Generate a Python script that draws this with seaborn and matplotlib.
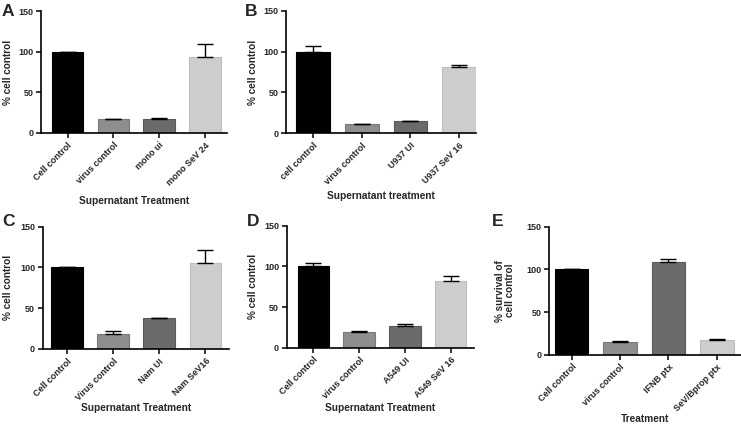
import numpy as np
import pandas as pd
import matplotlib
matplotlib.use('Agg')
import matplotlib.pyplot as plt
import seaborn as sns

# panel A
a_labels = ["Cell control", "virus control", "mono ui", "mono SeV 24"]
a_values = [100, 17, 17.5, 93]
a_err = [0, 0.8, 0.8, 17]

# panel B
b_labels = ["cell control", "virus control", "U937 UI", "U937 SeV 16"]
b_values = [100, 11.3, 14.8, 81]
b_err = [6.5, 0.5, 0.6, 3]

# panel C
c_labels = ["Cell control", "Virus control", "Nam UI", "Nam SeV16"]
c_values = [100, 18, 37.5, 106]
c_err = [0, 4.6, 0.5, 16]

# panel D
d_labels = ["Cell control", "virus control", "A549 UI", "A549 SeV 16"]
d_values = [100, 19.5, 26.5, 81.5]
d_err = [4, 1.5, 3, 7]

# panel E
e_labels = ["Cell control", "virus control", "IFNB ptx", "SeV/Bprop ptx"]
e_values = [100, 14.8, 108.6, 17.6]
e_err = [0, 0.8, 4, 0.8]

bar_colors = ["#000000", "#8e8e8e", "#6b6b6b", "#cdcdcd"]
edge_colors = ["#000000", "#7a7a7a", "#5a5a5a", "#bdbdbd"]

sns.set_style("ticks")
plt.rcParams['font.family'] = ['Liberation Sans', 'DejaVu Sans']
plt.rcParams['font.weight'] = 'bold'

W, H = 741, 428
fig = plt.figure(figsize=(W / 100, H / 100), dpi=100)


def px_axes(left, right, top, bottom):
    return fig.add_axes([left / W, 1 - bottom / H, (right - left) / W, (bottom - top) / H])


def panel(ax, labels, values, err, ylabel, xlabel, xlim, ylab_x, xlab_y):
    df = pd.DataFrame({"group": labels, "value": values})
    sns.barplot(data=df, x="group", y="value", hue="group", palette=bar_colors,
                width=0.69, legend=False, ax=ax, errorbar=None, linewidth=0.8)
    for patch, ec in zip(ax.patches, edge_colors):
        patch.set_edgecolor(ec)
    x = np.arange(len(values))
    ax.errorbar(x, values, yerr=[np.zeros(len(err)), err], fmt='none',
                ecolor='black', elinewidth=1.0, capsize=5.5, capthick=1.0, zorder=3)
    ax.set_ylim(0, 150)
    ax.set_yticks([0, 50, 100, 150])
    ax.set_xlim(*xlim)
    ax.spines['top'].set_visible(False)
    ax.spines['right'].set_visible(False)
    for s in ['left', 'bottom']:
        ax.spines[s].set_linewidth(1.2)
        ax.spines[s].set_color('black')
    ax.tick_params(axis='both', length=3.5, width=1.1, color='black',
                   labelsize=6.5, pad=2)
    ax.set_xticks(x)
    ax.set_xticklabels(labels, rotation=45, ha='right', rotation_mode='anchor',
                       fontweight='bold')
    for t in ax.get_yticklabels():
        t.set_fontweight('bold')
    ax.set_ylabel(ylabel, fontsize=7.2, fontweight='bold', linespacing=1.0)
    ax.set_xlabel(xlabel, fontsize=7.3, fontweight='bold')
    ax.yaxis.set_label_coords(ylab_x, 0.5)
    ax.xaxis.set_label_coords(0.5, xlab_y)


ax_a = px_axes(41, 227, 11, 133)
panel(ax_a, a_labels, a_values, a_err, "% cell control", "Supernatant Treatment",
      (-0.58, 3.48), -0.15, -0.515)

ax_b = px_axes(286, 476, 10.7, 133.3)
panel(ax_b, b_labels, b_values, b_err, "% cell control", "Supernatant treatment",
      (-0.56, 3.35), -0.147, -0.47)

ax_c = px_axes(42.7, 229, 226.7, 349)
panel(ax_c, c_labels, c_values, c_err, "% cell control", "Supernatant Treatment",
      (-0.53, 3.51), -0.16, -0.44)

ax_d = px_axes(286.7, 474, 225.7, 347.7)
panel(ax_d, d_labels, d_values, d_err, "% cell control", "Supernatant Treatment",
      (-0.585, 3.51), -0.153, -0.45)

ax_e = px_axes(549, 741, 226.7, 354.7)
panel(ax_e, e_labels, e_values, e_err, "% survival of\ncell control", "Treatment",
      (-0.47, 3.5), -0.177, -0.465)

letters = [("A", 2, 4), ("B", 245, 4), ("C", 2, 214), ("D", 246.5, 214), ("E", 491.5, 214)]
for letter, lx, ly in letters:
    fig.text(lx / W, 1 - ly / H, letter, fontsize=12.5, fontweight='bold',
             ha='left', va='top')

fig.savefig("out.png", dpi=100)
